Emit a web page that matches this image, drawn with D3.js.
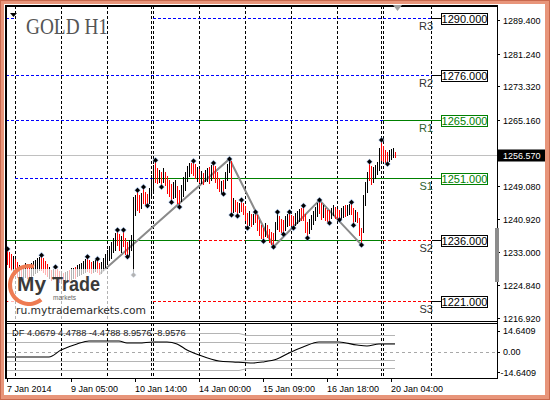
<!DOCTYPE html>
<html>
<head>
<meta charset="utf-8">
<script src="https://d3js.org/d3.v7.min.js"></script>
<style>
  html, body { margin: 0; padding: 0; background: #fff; }
  svg { display: block; font-family: "Liberation Sans", Arial, sans-serif; }
</style>
</head>
<body>
<div id="graph"></div>
<script>
// H1 bars, one per hour
const highs = [
1233.7,1233.0,1232.5,1232.0,1231.3,1230.5,1229.8,1229.3,1229.8,1230.3,
1230.1,1229.6,1230.3,1230.8,1231.0,1231.5,1231.8,1232.2,1231.5,1230.8,
1230.1,1229.3,1228.6,1228.8,1229.3,1228.8,1228.3,1228.1,1227.9,1228.1,
1228.3,1228.6,1229.1,1229.1,1229.3,1229.8,1230.1,1230.3,1230.8,1231.3,
1231.8,1231.0,1230.5,1230.8,1231.0,1231.3,1230.3,1230.5,1231.5,1232.5,
1233.5,1234.4,1235.4,1236.4,1237.6,1238.3,1237.3,1236.9,1238.3,1236.4,
1235.4,1235.9,1237.1,1246.3,1246.8,1248.0,1246.8,1247.3,1248.8,1247.6,
1247.1,1248.5,1251.7,1254.1,1255.3,1253.4,1252.9,1252.4,1253.4,1252.4,
1251.5,1250.5,1249.5,1250.0,1250.5,1249.0,1248.0,1249.3,1251.2,1252.4,
1253.9,1254.6,1254.6,1255.1,1254.4,1253.6,1253.2,1252.7,1252.2,1252.9,
1253.4,1253.6,1254.1,1254.6,1253.9,1252.4,1251.0,1250.2,1250.5,1252.4,
1254.4,1255.6,1255.1,1246.1,1245.6,1245.1,1244.9,1245.6,1244.9,1244.2,
1242.5,1242.9,1242.2,1242.2,1242.7,1242.0,1240.8,1239.5,1238.8,1240.0,
1239.5,1238.6,1237.8,1237.6,1240.3,1242.7,1241.7,1241.0,1240.8,1241.7,
1242.2,1242.7,1242.0,1241.7,1242.5,1242.9,1243.4,1243.7,1244.2,1242.2,
1240.3,1241.0,1242.0,1242.9,1243.9,1244.9,1245.6,1244.9,1244.4,1243.7,
1243.2,1243.2,1243.7,1244.4,1243.9,1243.4,1243.2,1243.7,1244.2,1244.4,
1244.4,1244.6,1245.1,1243.7,1243.2,1242.7,1241.2,1238.8,1246.8,1250.0,
1252.4,1254.9,1253.9,1253.6,1254.1,1254.9,1258.3,1260.2,1258.7,1257.8,
1257.3,1257.8,1258.0,1258.3,1257.3
];
const lows = [
1230.1,1229.3,1228.6,1228.3,1227.6,1226.9,1226.4,1225.9,1226.4,1226.9,
1226.6,1226.2,1226.9,1227.4,1227.9,1228.1,1228.6,1228.6,1228.1,1227.6,
1227.1,1226.6,1226.2,1226.4,1226.6,1226.2,1225.7,1225.4,1225.2,1225.4,
1225.7,1225.9,1226.4,1226.6,1226.6,1227.1,1227.4,1227.6,1227.9,1228.1,
1228.3,1228.1,1227.9,1228.1,1228.3,1228.1,1227.6,1227.9,1228.6,1229.3,
1230.1,1231.0,1231.5,1233.0,1233.5,1234.7,1233.5,1233.0,1234.4,1232.5,
1231.8,1232.2,1233.5,1227.4,1242.0,1243.2,1242.7,1243.7,1244.9,1244.6,
1244.2,1244.9,1246.1,1247.6,1250.0,1249.8,1250.0,1248.8,1250.0,1249.3,
1247.3,1246.6,1245.1,1246.1,1246.3,1244.9,1243.9,1245.4,1246.6,1248.0,
1250.2,1251.5,1252.2,1251.7,1251.0,1250.2,1250.0,1249.8,1249.5,1250.2,
1250.2,1249.8,1250.5,1251.0,1250.0,1248.5,1247.8,1247.3,1247.1,1248.5,
1250.5,1252.4,1242.0,1242.7,1242.9,1241.7,1242.7,1242.9,1242.2,1240.8,
1238.8,1239.5,1239.3,1239.8,1240.3,1238.3,1237.1,1236.4,1235.6,1236.9,
1236.6,1235.4,1234.9,1234.2,1235.9,1238.6,1238.1,1237.8,1237.3,1238.3,
1239.3,1239.5,1239.5,1238.8,1239.5,1240.0,1240.5,1240.8,1240.8,1237.8,
1236.4,1237.6,1238.6,1239.8,1240.8,1241.7,1242.5,1241.0,1241.5,1240.8,
1240.5,1240.0,1241.2,1242.0,1241.2,1241.0,1240.8,1241.2,1241.5,1241.7,
1242.0,1242.2,1242.2,1239.5,1240.5,1240.3,1237.1,1234.7,1237.8,1244.4,
1247.6,1250.5,1249.5,1250.0,1251.0,1251.9,1252.9,1255.3,1255.1,1254.9,
1254.4,1255.1,1255.6,1256.1,1256.1
];
// u = bull bar (black), d = bear bar (red)
const dirs = ("dddud" + "duduu" + "dduuu" + "uuddd" + "dudud" + "ddudu" + "uduud" + "uuuuu" +
              "ddduu" + "dduuu" + "uuuuu" + "ddudd" + "duuuu" + "ddudd" + "duuud" + "dudud" +
              "ddduu" + "dduuu" + "uuddd" + "ududu" + "ududd" + "ddudu" + "uudud" + "duddd" +
              "dudud" + "ddddu" + "ddddu" + "udddu" + "udddu" + "uuddd" + "duuuu" + "uddud" +
              "dduud" + "dduud" + "uuddu" + "ddduu" + "udduu" + "uuddd" + "duuud").split("");

const fractalUp = [0,17,24,40,45,55,58,65,68,74,93,103,111,117,124,135,141,148,156,172,181,187];
const fractalDown = [60,63,70,77,82,86,108,112,115,120,128,133,138,143,150,161,166,173,177,190];

const zigzagIdx = [46, 111, 133, 156, 177];
const zigzagPrice = [1227.6, 1255.6, 1234.2, 1245.6, 1234.7];

const lastPrice = 1256.57;
const priceTicks = [1289.4, 1281.24, 1273.32, 1265.16, 1249.08, 1240.92, 1233.0, 1224.84, 1216.92];
const timeTickIdx = [0, 32, 64, 96, 128, 160, 192];
const timeTickLabels = ["7 Jan 2014", "9 Jan 05:00", "10 Jan 14:00", "14 Jan 00:00", "15 Jan 09:00", "16 Jan 18:00", "20 Jan 04:00"];

// support / resistance levels
const levelNames = ["R3", "R2", "R1", "S1", "S2", "S3"];
const levelValues = [1290, 1276, 1265, 1251, 1236, 1221];
const levelColors = ["black", "black", "green", "green", "black", "black"];
// drawn piece by piece (bar index from/to)
const segLevel = [0, 0, 1, 2, 2, 2, 2, 3, 3, 4, 4, 4, 4, 5, 5];
const segFrom  = [-0.5, 73, -0.5, -0.5, 96, 119, 188, 4, 73, -0.5, 96, 119, 188, -0.5, 73];
const segTo    = [4, 212.5, 212.5, 96, 119, 188, 212.5, 73, 212.5, 96, 119, 188, 212.5, 4, 212.5];
const segStyle = ["blue", "blue", "blue", "blue", "green", "blue", "green", "blue", "green",
                  "green", "red", "green", "red", "red", "red"];

const gridIdx = [4, 27, 50, 73, 96, 119, 142, 165, 188, 212];
const separatorIdx = [72, 187];

// DF indicator
const dfLegend = "DF 4.0679 4.4788 -4.4788 8.9576 -8.9576";
const dfIdx = [0, 21, 27, 35, 41, 56, 60, 66, 73, 80, 85, 90, 96, 106, 113, 123, 128, 135, 141, 148, 156, 166, 175, 180, 186, 194];
const dfValues = [-3.0, -3.0, 0.8, 4.1, 5.7, 5.7, 4.6, 4.6, 5.2, 5.2, 4.1, 0.8, -1.9, -5.2, -5.7, -6.25, -5.7, -4.1, -0.8, 2.4, 5.2, 5.2, 3.5, 3.0, 4.1, 4.07];
const bandIdx = [0, 116, 120, 194];
const bandUpperOuter = [10.1, 10.1, 9.0, 8.9576];
const bandUpperInner = [5.0, 5.0, 4.5, 4.4788];
const bandLowerInner = [-5.0, -5.0, -4.5, -4.4788];
const bandLowerOuter = [-10.1, -10.1, -9.0, -8.9576];
const dfTicks = [14.6409, 0, -14.6409];
const dfTickLabels = ["14.6409", "0.00", "-14.6409"];

var svg, xScale, yScale, yInd;
const plotLeft = 6, plotRight = 497, mainTop = 6, mainBottom = 321, indTop = 323, indBottom = 378;
const dashStyles = {
    blue:  {stroke: "#0000ff", dash: "3,2"},
    green: {stroke: "#008000", dash: null},
    red:   {stroke: "#ff0000", dash: "3,2"}
};

function setup() {
    svg = d3.select("#graph").append("svg")
        .attr("width", 550)
        .attr("height", 400);

    // salmon window frame
    svg.append("rect").attr("width", 550).attr("height", 400).attr("fill", "#e8957a");
    svg.append("rect").attr("x", 0.5).attr("y", 0.5).attr("width", 549).attr("height", 399)
        .attr("fill", "none").attr("stroke", "#c9694e");
    svg.append("rect").attr("x", 4).attr("y", 4).attr("width", 541).attr("height", 391).attr("fill", "#fff");

    xScale = d3.scaleLinear().domain([0, 245]).range([7, 497]);
    yScale = d3.scaleLinear().domain([1216.92, 1289.4]).range([318, 20]);
    yInd = d3.scaleLinear().domain([-14.6409, 14.6409]).range([378.4, 324.6]);
}

function crisp(v) { return Math.round(v) + 0.5; }

function drawGrid() {
    var g = svg.append("g").attr("shape-rendering", "crispEdges");
    gridIdx.concat(separatorIdx).forEach(function(i) {
        [[mainTop, mainBottom], [indTop, indBottom]].forEach(function(r) {
            g.append("line")
                .attr("x1", crisp(xScale(i))).attr("x2", crisp(xScale(i)))
                .attr("y1", r[0]).attr("y2", r[1])
                .attr("stroke", "#000")
                .attr("stroke-dasharray", "3,2");
        });
    });
}

function drawLevels() {
    var g = svg.append("g").attr("shape-rendering", "crispEdges");
    // bid line
    g.append("line")
        .attr("x1", plotLeft).attr("x2", plotRight)
        .attr("y1", crisp(yScale(lastPrice))).attr("y2", crisp(yScale(lastPrice)))
        .attr("stroke", "#c0c0c0");

    for (var s = 0; s < segLevel.length; s++) {
        var st = dashStyles[segStyle[s]];
        var yy = crisp(yScale(levelValues[segLevel[s]]));
        g.append("line")
            .attr("x1", xScale(segFrom[s])).attr("x2", xScale(segTo[s]))
            .attr("y1", yy).attr("y2", yy)
            .attr("stroke", st.stroke)
            .attr("stroke-dasharray", st.dash);
    }
}

function drawBars() {
    // zigzag
    var zz = zigzagIdx.map(function(d, k) { return [xScale(d) + 0.5, yScale(zigzagPrice[k])]; });
    svg.append("path")
        .attr("d", d3.line()(zz))
        .attr("fill", "none")
        .attr("stroke", "#8a8a8a")
        .attr("stroke-width", 2);

    var barData = highs.map(function(h, i) {
        return {i: i, high: h, low: lows[i], up: dirs[i] === "u"};
    });
    // bull and bear bars in two groups
    [true, false].forEach(function(up) {
        svg.append("g")
            .attr("stroke", up ? "#000000" : "#ff0000")
            .selectAll("line")
            .data(barData.filter(function(d) { return d.up === up; }))
            .enter()
            .append("line")
            .attr("x1", function(d) { return xScale(d.i) + 0.5; })
            .attr("x2", function(d) { return xScale(d.i) + 0.5; })
            .attr("y1", function(d) { return Math.round(yScale(d.high)); })
            .attr("y2", function(d) { return Math.round(yScale(d.low)) + 1; });
    });

    // fractal marks (small diamonds)
    var diamond = "M0,-2.5L2.5,0L0,2.5L-2.5,0Z";
    var marks = fractalUp.map(function(i) { return [i, highs[i]]; })
        .concat(fractalDown.map(function(i) { return [i, lows[i]]; }));
    var mg = svg.append("g");
    mg.selectAll("path.halo")
        .data(marks)
        .enter()
        .append("path")
        .attr("d", diamond)
        .attr("transform", function(d) { return "translate(" + (xScale(d[0]) + 0.5) + "," + yScale(d[1]) + ") scale(1.35)"; })
        .attr("fill", "#6aa0e8")
        .attr("opacity", 0.45);
    mg.selectAll("path.mark")
        .data(marks)
        .enter()
        .append("path")
        .attr("d", diamond)
        .attr("transform", function(d) { return "translate(" + (xScale(d[0]) + 0.5) + "," + yScale(d[1]) + ")"; })
        .attr("fill", "#000");
}

function drawLogo() {
    svg.append("rect")
        .attr("x", 8).attr("y", 269).attr("width", 142).attr("height", 51).attr("rx", 6)
        .attr("fill", "#fff").attr("opacity", 0.7);

    var arc = d3.arc().innerRadius(17).outerRadius(21).startAngle(2.45).endAngle(6.55);
    svg.append("path")
        .attr("d", arc())
        .attr("transform", "translate(29,285)")
        .attr("fill", "#ee7b52");

    svg.append("text").attr("x", 17).attr("y", 291)
        .attr("font-size", 21).attr("font-weight", "bold")
        .attr("textLength", 29).attr("lengthAdjust", "spacingAndGlyphs")
        .attr("fill", "#3a3a3a").text("My");
    svg.append("text").attr("x", 52).attr("y", 291)
        .attr("font-size", 21).attr("font-weight", "bold")
        .attr("textLength", 48).attr("lengthAdjust", "spacingAndGlyphs")
        .attr("fill", "#3a3a3a").text("Trade");
    svg.append("text").attr("x", 53).attr("y", 299.5)
        .attr("font-size", 6.5).attr("fill", "#666").text("markets");
    svg.append("text").attr("x", 16).attr("y", 314)
        .style("font-family", "'DejaVu Sans', sans-serif")
        .attr("font-size", 11)
        .attr("textLength", 130).attr("lengthAdjust", "spacingAndGlyphs")
        .attr("fill", "#2b2b2b").text("ru.mytrademarkets.com");

    // chart title
    svg.append("text").attr("x", 26).attr("y", 34)
        .style("font-family", "'Liberation Serif', 'DejaVu Serif', serif")
        .attr("font-size", 23)
        .attr("textLength", 82).attr("lengthAdjust", "spacingAndGlyphs")
        .attr("fill", "#555").text("GOLD H1");
}

function drawLevelLabels() {
    var fmt = d3.format(".3f");
    levelValues.forEach(function(v, k) {
        var yy = crisp(yScale(v));
        var col = levelColors[k] == "green" ? "#008000" : "#000";
        svg.append("text")
            .attr("x", xScale(213)).attr("y", yy + 11)
            .attr("text-anchor", "end")
            .attr("font-size", 11)
            .attr("fill", levelColors[k] == "green" ? "#2f5f2f" : "#333")
            .text(levelNames[k]);
        svg.append("line")
            .attr("x1", xScale(212.5)).attr("x2", xScale(212.5) + 9)
            .attr("y1", yy).attr("y2", yy)
            .attr("stroke", col).attr("shape-rendering", "crispEdges");
        svg.append("rect")
            .attr("x", xScale(212.5) + 9.5).attr("y", yy - 5)
            .attr("width", 46).attr("height", 11)
            .attr("fill", "#fff").attr("stroke", col)
            .attr("shape-rendering", "crispEdges");
        svg.append("text")
            .attr("x", xScale(212.5) + 32.5).attr("y", yy + 0.5)
            .attr("dy", "0.35em")
            .attr("text-anchor", "middle")
            .attr("font-size", 11)
            .attr("fill", col)
            .text(fmt(v));
    });
}

function drawFrameAndAxes() {
    var g = svg.append("g").attr("shape-rendering", "crispEdges");
    g.append("line").attr("x1", 5).attr("x2", plotRight).attr("y1", 6).attr("y2", 6).attr("stroke", "#000").attr("stroke-width", 2);
    g.append("line").attr("x1", 6).attr("x2", 6).attr("y1", 5).attr("y2", indBottom + 1).attr("stroke", "#000").attr("stroke-width", 2);
    g.append("line").attr("x1", plotRight + 0.5).attr("x2", plotRight + 0.5).attr("y1", 5).attr("y2", indBottom + 1).attr("stroke", "#000");
    [mainBottom, indTop, indBottom].forEach(function(yy) {
        g.append("line").attr("x1", 5).attr("x2", plotRight + 1).attr("y1", yy + 0.5).attr("y2", yy + 0.5).attr("stroke", "#000");
    });

    // price axis
    var fmt = d3.format(".3f");
    priceTicks.forEach(function(p) {
        var yy = crisp(yScale(p));
        g.append("line").attr("x1", plotRight).attr("x2", plotRight + 3).attr("y1", yy).attr("y2", yy).attr("stroke", "#000");
        svg.append("text").attr("x", 503).attr("y", yy).attr("dy", "0.35em")
            .attr("font-size", 9).attr("fill", "#000").text(fmt(p));
    });
    var ly = crisp(yScale(lastPrice));
    svg.append("rect").attr("x", 498).attr("y", ly - 6).attr("width", 47).attr("height", 12).attr("fill", "#000");
    svg.append("text").attr("x", 503).attr("y", ly).attr("dy", "0.35em")
        .attr("font-size", 9).attr("fill", "#fff").text(fmt(lastPrice));

    // scroll marker
    svg.append("rect").attr("x", 495).attr("y", 228).attr("width", 4).attr("height", 54).attr("fill", "#8c8c8c");

    // time axis
    timeTickIdx.forEach(function(i, k) {
        var xx = crisp(xScale(i));
        g.append("line").attr("x1", xx).attr("x2", xx).attr("y1", indBottom).attr("y2", indBottom + 4).attr("stroke", "#000");
        svg.append("text").attr("x", xScale(i)).attr("y", 392)
            .attr("font-size", 9).attr("fill", "#000").text(timeTickLabels[k]);
    });

    // small markers at the top
    svg.append("path").attr("d", "M10,13L17,13L13.5,17Z").attr("fill", "#000");
    svg.append("path").attr("d", "M393,5L402,5L397.5,11Z").attr("fill", "#a0a0a0");
}

function drawIndicator() {
    var g = svg.append("g");
    g.append("line")
        .attr("x1", plotLeft).attr("x2", plotRight)
        .attr("y1", crisp(yInd(0))).attr("y2", crisp(yInd(0)))
        .attr("stroke", "#a8a8a8").attr("stroke-dasharray", "3,3")
        .attr("shape-rendering", "crispEdges");

    var bandLine = d3.line()
        .x(function(d) { return xScale(d[0]); })
        .y(function(d) { return crisp(yInd(d[1])); });
    [bandUpperOuter, bandUpperInner, bandLowerInner, bandLowerOuter].forEach(function(b) {
        g.append("path")
            .attr("d", bandLine(bandIdx.map(function(i, k) { return [i, b[k]]; })))
            .attr("fill", "none").attr("stroke", "#b4b4b4");
    });

    var dfLine = d3.line()
        .x(function(d) { return xScale(d[0]); })
        .y(function(d) { return yInd(d[1]); })
        .curve(d3.curveMonotoneX);
    g.append("path")
        .attr("d", dfLine(dfIdx.map(function(i, k) { return [i, dfValues[k]]; })))
        .attr("fill", "none").attr("stroke", "#000").attr("stroke-width", 1.1);

    svg.append("text").attr("x", 12).attr("y", 336)
        .attr("font-size", 9.3).attr("fill", "#222").text(dfLegend);

    dfTicks.forEach(function(v, k) {
        var yy = yInd(v) + (k == 0 ? 6 : (k == 2 ? -6 : 0));
        svg.append("line").attr("x1", plotRight).attr("x2", plotRight + 3)
            .attr("y1", crisp(yy)).attr("y2", crisp(yy)).attr("stroke", "#000")
            .attr("shape-rendering", "crispEdges");
        svg.append("text").attr("x", v < 0 ? 500.5 : 503).attr("y", yy).attr("dy", "0.35em")
            .attr("font-size", 9).attr("fill", "#000").text(dfTickLabels[k]);
    });
}

function initialize() {
    setup();
    drawGrid();
    drawLevels();
    drawBars();
    drawLogo();
    drawLevelLabels();
    drawIndicator();
    drawFrameAndAxes();
}

initialize();
</script>
</body>
</html>
